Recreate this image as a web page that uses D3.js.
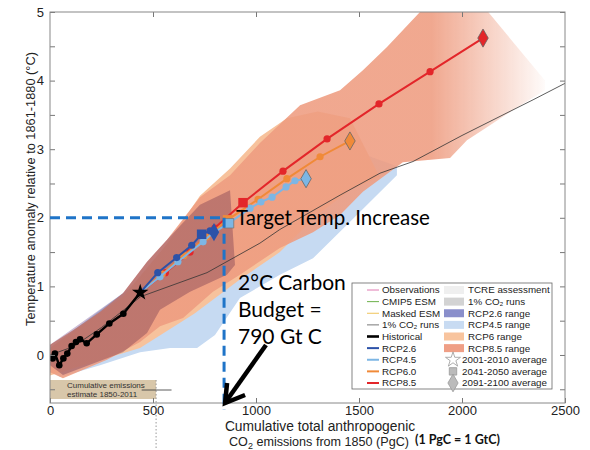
<!DOCTYPE html>
<html>
<head>
<meta charset="utf-8">
<script src="https://cdn.jsdelivr.net/npm/d3@7/dist/d3.min.js"></script>
<style>
  body { margin: 0; background: #fff; }
  svg { display: block; }
  svg text { font-family: "Liberation Sans", Arial, sans-serif; }
</style>
</head>
<body>
<div id="chart"></div>
<script>
// ---- data (x = cumulative PgC, y = deg C) ----
var historical = [[13,-0.05],[24,0.02],[45,-0.15],[65,-0.05],[84,0.02],[105,0.13],[126,0.19],[146,0.23],[178,0.17],[227,0.30],[288,0.46],[356,0.60],[438,0.91]];
var rcp26 = [[438,0.91],[523,1.20],[615,1.42],[688,1.60],[736,1.76],[777,1.81],[796,1.79]];
var rcp45 = [[438,0.91],[534,1.14],[621,1.36],[743,1.65],[791,1.78],[869,1.92],[971,2.14],[1024,2.23],[1078,2.30],[1146,2.45],[1189,2.54],[1243,2.57]];
var rcp60 = [[438,0.91],[545,1.18],[650,1.45],[760,1.72],[862,1.97],[1010,2.27],[1150,2.57],[1311,2.89],[1456,3.12]];
var rcp85 = [[438,0.91],[560,1.20],[680,1.50],[800,1.85],[937,2.22],[1131,2.68],[1345,3.15],[1597,3.66],[1845,4.13],[2102,4.62]];
var onePctRuns = [[0,0],[112,0.12],[250,0.40],[440,0.85],[762,1.20],[1019,1.63],[1116,1.83],[1408,2.33],[1602,2.65],[1762,2.82],[2000,3.20],[2345,3.72],[2500,3.96]];

// model ranges: upper edge left->right, lower edge left->right
var rcp85RangeUpper = [[0,0.15],[112,0.36],[243,0.63],[354,0.90],[471,1.36],[568,1.68],[728,2.30],[874,2.62],[1019,3.09],[1214,3.64],[1408,3.86],[1519,4.15],[1636,4.49],[1796,5.0],[2039,5.32],[2403,4.0]];
var rcp85RangeLower = [[0,-0.25],[63,-0.34],[277,-0.07],[437,0.19],[534,0.42],[646,0.54],[791,0.92],[922,1.17],[1116,1.56],[1277,1.79],[1408,2.04],[1519,2.38],[1713,2.81],[1942,2.87],[2024,3.13],[2121,3.32],[2248,3.57],[2403,3.86]];
var rcp60RangeUpper = [[0,0.10],[354,0.85],[568,1.62],[728,2.32],[874,2.72],[1019,3.18],[1150,3.45],[1300,3.55],[1456,3.45]];
var rcp60RangeLower = [[0,-0.30],[437,0.10],[700,0.60],[922,1.10],[1116,1.50],[1300,2.05],[1456,2.40],[1600,2.60]];
var rcp45RangeUpper = [[0,0.10],[485,1.20],[971,2.30],[1456,3.00],[1684,2.75]];
var rcp45RangeLower = [[0,-0.22],[49,-0.32],[243,-0.15],[437,0.04],[583,0.10],[714,0.10],[801,0.29],[922,0.83],[1116,1.17],[1277,1.41],[1442,1.90],[1684,2.62]];
var rcp26RangeUpper = [[0,0.15],[354,0.90],[471,1.36],[568,1.68],[728,2.19],[874,2.40]];
var rcp26RangeLower = [[0,-0.15],[63,-0.29],[354,0.04],[471,0.32],[534,0.66],[680,0.92],[859,1.17],[898,1.31]];

// period-average markers: [series, x, y]
var avg2001 = [438, 0.91];
var avg2041 = [["rcp85",937,2.22],["rcp60",862,1.97],["rcp45",869,1.92],["rcp26",736,1.76]];
var avg2091 = [["rcp85",2102,4.62],["rcp60",1456,3.12],["rcp45",1243,2.57],["rcp26",796,1.79]];

var cumEmissions = 515, cumEmissionsRange = [445, 590];
var budgetX = 845, targetTemp = 2;

var xTicks = [0, 500, 1000, 1500, 2000, 2500];
var yTicks = [-0.5, 0, 0.5, 1, 1.5, 2, 2.5, 3, 3.5, 4, 4.5, 5];

var legendLines = ["Observations", "CMIP5 ESM", "Masked ESM", "1% CO\u2082 runs", "Historical", "RCP2.6", "RCP4.5", "RCP6.0", "RCP8.5"];
var legendRanges = ["TCRE assessment", "1% CO\u2082 runs", "RCP2.6 range", "RCP4.5 range", "RCP6 range", "RCP8.5 range"];
var legendMarkers = ["2001-2010 average", "2041-2050 average", "2091-2100 average"];

var colors = { rcp26: "#2c52a8", rcp45: "#7db6e4", rcp60: "#f08a38", rcp85: "#e3262a" };
var sansFont = "'Liberation Sans', Arial, sans-serif";
var noteFont = "Lato, sans-serif";

// ---- chart ----
var svg = d3.select("#chart").append("svg")
    .attr("width", 590)
    .attr("height", 450);

var x = d3.scaleLinear().domain([0, 2500]).range([50, 565]);
var y = d3.scaleLinear().domain([-0.7, 5]).range([403, 12]);

var defs = svg.append("defs");
defs.append("clipPath").attr("id", "plotclip")
    .append("rect").attr("x", 50).attr("y", 12).attr("width", 515).attr("height", 391);

var fade = defs.append("linearGradient").attr("id", "fade85")
    .attr("gradientUnits", "userSpaceOnUse")
    .attr("x1", x(1850)).attr("x2", x(2430)).attr("y1", 0).attr("y2", 0);
fade.append("stop").attr("offset", 0).attr("stop-color", "#ee9c80").attr("stop-opacity", 0.88);
fade.append("stop").attr("offset", 1).attr("stop-color", "#ee9c80").attr("stop-opacity", 0);

var line = d3.line().x(d => x(d[0])).y(d => y(d[1]));
function band(upper, lower) {
    return line(upper.concat(lower.slice().reverse())) + "Z";
}

var plot = svg.append("g").attr("clip-path", "url(#plotclip)");

plot.append("path").attr("d", band(rcp45RangeUpper, rcp45RangeLower))
    .attr("fill", "#c6daf2");
plot.append("path").attr("d", band(rcp60RangeUpper, rcp60RangeLower))
    .attr("fill", "#f7c29c");
plot.append("path").attr("d", band(rcp85RangeUpper, rcp85RangeLower))
    .attr("fill", "url(#fade85)");
plot.append("path").attr("d", band(rcp26RangeUpper, rcp26RangeLower))
    .attr("fill", "#b39cc2")
    .attr("opacity", 0.68)
    .style("mix-blend-mode", "multiply");

// 1% CO2 runs
plot.append("path").attr("d", line(onePctRuns))
    .attr("fill", "none").attr("stroke", "#333").attr("stroke-width", 0.8);

// cumulative emissions estimate
svg.append("rect")
    .attr("x", x(0)).attr("y", 380)
    .attr("width", x(cumEmissions) - x(0)).attr("height", 19)
    .attr("fill", "#d8c7aa");
svg.append("line")
    .attr("x1", x(cumEmissions)).attr("x2", x(cumEmissions))
    .attr("y1", 380).attr("y2", 450)
    .attr("stroke", "#999").attr("stroke-width", 1).attr("stroke-dasharray", "1.5,2");
svg.append("line")
    .attr("x1", x(cumEmissionsRange[0])).attr("x2", x(cumEmissionsRange[1]))
    .attr("y1", 390).attr("y2", 390)
    .attr("stroke", "#333").attr("stroke-width", 0.8);
svg.append("text").attr("x", 67).attr("y", 388)
    .style("font-family", sansFont).style("font-size", "8px").attr("fill", "#333")
    .text("Cumulative emissions");
svg.append("text").attr("x", 67).attr("y", 397)
    .style("font-family", sansFont).style("font-size", "8px").attr("fill", "#333")
    .text("estimate 1850-2011");

// scenario lines with dots
function series(data, color, r) {
    plot.append("path").attr("d", line(data))
        .attr("fill", "none").attr("stroke", color).attr("stroke-width", 2);
    plot.selectAll(null).data(data.slice(1)).enter().append("circle")
        .attr("cx", d => x(d[0])).attr("cy", d => y(d[1])).attr("r", r)
        .attr("fill", color);
}
series(rcp85, colors.rcp85, 3.6);
series(rcp60, colors.rcp60, 3.6);
series(rcp45, colors.rcp45, 3.6);
series(rcp26, colors.rcp26, 3.6);

plot.append("path").attr("d", line(historical))
    .attr("fill", "none").attr("stroke", "#000").attr("stroke-width", 2.4);
plot.selectAll(".hist").data(historical.slice(0, -1)).enter().append("circle")
    .attr("cx", d => x(d[0])).attr("cy", d => y(d[1])).attr("r", 3.3)
    .attr("fill", "#000");

plot.selectAll(".sq").data(avg2041).enter().append("path")
    .attr("transform", d => "translate(" + x(d[1]) + "," + y(d[2]) + ")")
    .attr("d", d3.symbol().type(d3.symbolSquare).size(90)())
    .attr("fill", d => colors[d[0]])
    .attr("stroke", d => d[0] == "rcp45" ? "#777" : "none").attr("stroke-width", 0.8);
plot.selectAll(".dm").data(avg2091).enter().append("path")
    .attr("transform", d => "translate(" + x(d[1]) + "," + y(d[2]) + ")")
    .attr("d", d3.symbol().type(d3.symbolDiamond).size(95)())
    .attr("fill", d => colors[d[0]])
    .attr("stroke", d => d[0] == "rcp26" ? "none" : "#666").attr("stroke-width", 0.8);
plot.append("path")
    .attr("transform", "translate(" + x(avg2001[0]) + "," + y(avg2001[1]) + ")")
    .attr("d", d3.symbol().type(d3.symbolStar).size(85)())
    .attr("fill", "#000");

// axes (ticks pointing inwards)
function styleAxis(g) {
    g.select(".domain").remove();
    g.selectAll(".tick line").attr("stroke", "#777");
    g.selectAll(".tick text").attr("fill", "#222")
        .style("font-family", sansFont).style("font-size", "13px");
}
svg.append("g").attr("transform", "translate(0,403)")
    .call(d3.axisBottom(x).tickValues(xTicks).tickSize(-5).tickPadding(3).tickFormat(d3.format("d")))
    .call(styleAxis);
svg.append("g").attr("transform", "translate(0,12)")
    .call(d3.axisTop(x).tickValues(xTicks.slice(1, -1)).tickSize(-5).tickFormat(""))
    .call(styleAxis);
svg.append("g").attr("transform", "translate(50,0)")
    .call(d3.axisLeft(y).tickValues(yTicks).tickSize(-5).tickPadding(6)
        .tickFormat(d => (Number.isInteger(d) && d >= 0) ? d : ""))
    .call(styleAxis);
svg.append("g").attr("transform", "translate(565,0)")
    .call(d3.axisRight(y).tickValues(yTicks).tickSize(-5).tickFormat(""))
    .call(styleAxis);
svg.append("rect").attr("x", 50).attr("y", 12).attr("width", 515).attr("height", 391)
    .attr("fill", "none").attr("stroke", "#888").attr("stroke-width", 1);

// axis titles
svg.append("text")
    .attr("transform", "translate(35,189) rotate(-90)")
    .attr("text-anchor", "middle").attr("fill", "#222")
    .style("font-family", sansFont).style("font-size", "12.8px")
    .text("Temperature anomaly relative to 1861-1880 (\u00B0C)");
svg.append("text").attr("x", 320).attr("y", 431)
    .attr("text-anchor", "middle").attr("fill", "#222")
    .style("font-family", sansFont).style("font-size", "13.8px")
    .text("Cumulative total anthropogenic");
var xt2 = svg.append("text").attr("x", 319).attr("y", 446)
    .attr("text-anchor", "middle").attr("fill", "#222")
    .style("font-family", sansFont).style("font-size", "12.6px");
xt2.append("tspan").text("CO");
xt2.append("tspan").style("font-size", "9px").attr("dy", 3).text("2");
xt2.append("tspan").attr("dy", -3).text(" emissions from 1850 (PgC)");
svg.append("text").attr("x", 415).attr("y", 444)
    .style("font-family", noteFont).style("font-weight", "bold")
    .style("font-size", "12.5px").attr("fill", "#111").text("(1 PgC = 1 GtC)");

// legend
var lg = svg.append("g").attr("transform", "translate(352,283)");
lg.append("rect").attr("width", 200).attr("height", 106)
    .attr("fill", "#fff").attr("stroke", "#666").attr("stroke-width", 0.8);
var lineStyles = [["#e07ab2",1], ["#6cb04a",1], ["#f0c45a",1], ["#555",0.8], ["#000",2.6],
    [colors.rcp26,2], [colors.rcp45,2], [colors.rcp60,2], [colors.rcp85,2]];
var rowY = d3.scaleLinear().domain([0, 8]).range([7, 100]);
function legendText(tx, ty, t) {
    lg.append("text").attr("x", tx).attr("y", ty + 3.4).attr("fill", "#222")
        .style("font-family", sansFont).style("font-size", "9.8px").text(t);
}
legendLines.forEach(function (name, i) {
    lg.append("line").attr("x1", 15).attr("x2", 27).attr("y1", rowY(i)).attr("y2", rowY(i))
        .attr("stroke", lineStyles[i][0]).attr("stroke-width", lineStyles[i][1]);
    legendText(30, rowY(i), name);
});
var rangeColors = ["#efefef", "#d3d3d3", "#8a8fcb", "#c8dbf2", "#f8c49e", "#ef9f86"];
legendRanges.forEach(function (name, i) {
    lg.append("rect").attr("x", 92).attr("y", rowY(i) - 4).attr("width", 20).attr("height", 8)
        .attr("fill", rangeColors[i]);
    legendText(116, rowY(i), name);
});
var markerTypes = [d3.symbolStar, d3.symbolSquare, d3.symbolDiamond];
var markerSizes = [70, 55, 90];
legendMarkers.forEach(function (name, i) {
    var ry = rowY(6 + i);
    lg.append("path").attr("transform", "translate(101," + ry + ")")
        .attr("d", d3.symbol().type(markerTypes[i]).size(markerSizes[i])())
        .attr("fill", i == 0 ? "#fff" : "#bbb").attr("stroke", "#999").attr("stroke-width", 0.8);
    legendText(110, ry, name);
});

// budget annotation
var dash = "10,6";
svg.append("line").attr("x1", x(0)).attr("x2", x(budgetX))
    .attr("y1", y(targetTemp)).attr("y2", y(targetTemp))
    .attr("stroke", "#1f74c8").attr("stroke-width", 3).attr("stroke-dasharray", dash);
svg.append("line").attr("x1", x(budgetX)).attr("x2", x(budgetX))
    .attr("y1", y(targetTemp)).attr("y2", 410)
    .attr("stroke", "#1f74c8").attr("stroke-width", 3).attr("stroke-dasharray", dash);

svg.append("text").attr("x", 236).attr("y", 225)
    .style("font-family", noteFont).style("font-size", "20.5px").attr("fill", "#000")
    .text("Target Temp. Increase");
["2\u00B0C Carbon", "Budget =", "790 Gt C"].forEach(function (t, i) {
    svg.append("text").attr("x", 238).attr("y", 290 + i * 27)
        .style("font-family", noteFont).style("font-size", "21px").attr("fill", "#000")
        .text(t);
});

// arrow
var tip = [x(budgetX) + 1, 403];
svg.append("line").attr("x1", 266).attr("y1", 345).attr("x2", tip[0] + 2).attr("y2", tip[1] - 3)
    .attr("stroke", "#000").attr("stroke-width", 4.5);
svg.append("path")
    .attr("d", "M" + (tip[0] + 2) + "," + (tip[1] - 20) + "L" + tip[0] + "," + tip[1] + "L" + (tip[0] + 20) + "," + (tip[1] - 8))
    .attr("fill", "none").attr("stroke", "#000").attr("stroke-width", 4.5)
    .attr("stroke-linejoin", "miter");
</script>
</body>
</html>
